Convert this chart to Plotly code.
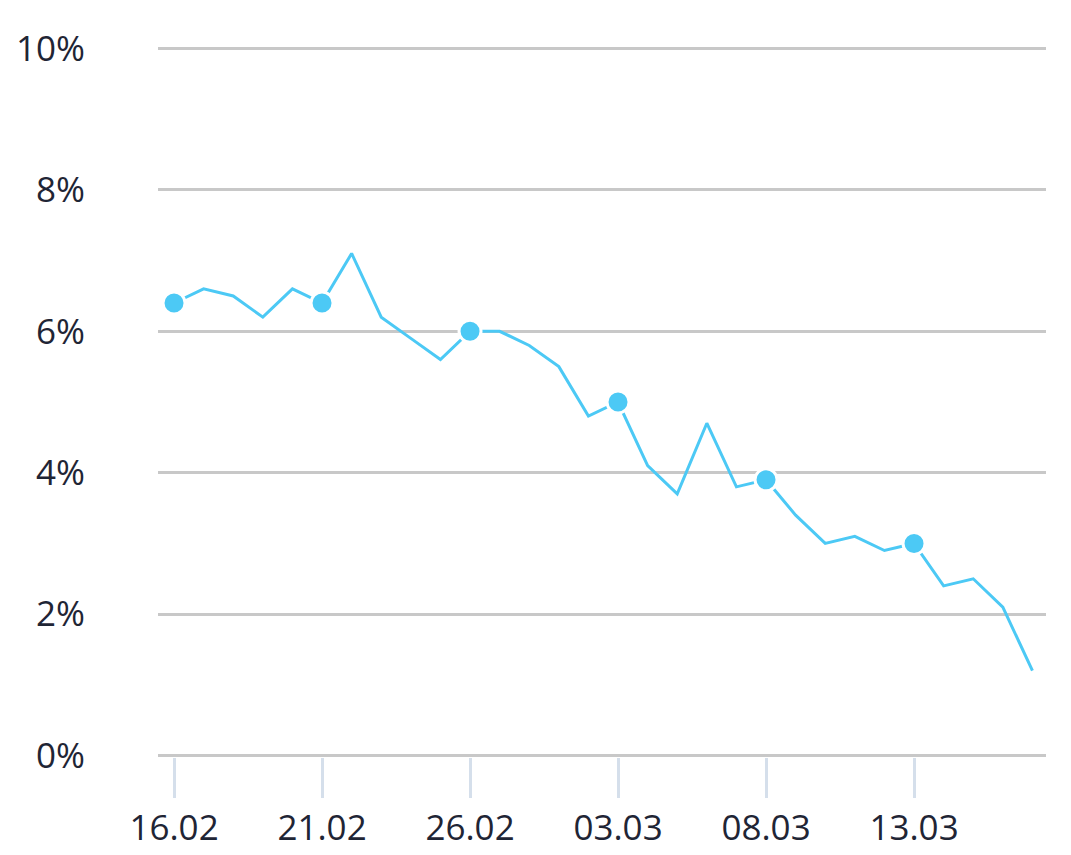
import plotly.graph_objects as go
import pandas as pd

dates = pd.date_range("2021-02-16", periods=30, freq="D")
values = [6.4, 6.6, 6.5, 6.2, 6.6, 6.4, 7.1, 6.2, 5.9, 5.6,
          6.0, 6.0, 5.8, 5.5, 4.8, 5.0, 4.1, 3.7, 4.7, 3.8,
          3.9, 3.4, 3.0, 3.1, 2.9, 3.0, 2.4, 2.5, 2.1, 1.2]
marker_idx = list(range(0, len(values), 5))

color = "#4cc9f5"
fig = go.Figure()
fig.add_trace(go.Scatter(
    x=dates, y=values, mode="lines",
    line=dict(color=color, width=3),
    hoverinfo="skip",
))
fig.add_trace(go.Scatter(
    x=[dates[i] for i in marker_idx], y=[values[i] for i in marker_idx],
    mode="markers",
    marker=dict(size=22, color=color, opacity=1, line=dict(color="white", width=3)),
    hoverinfo="skip",
))

font_color = "#1f2535"
x0 = pd.Timestamp("2021-02-16")
pad = 0.02
fig.update_layout(
    width=1071, height=855,
    margin=dict(l=158, r=25, t=48 - pad * 70.8, b=99 - pad * 70.8),
    plot_bgcolor="white", paper_bgcolor="white",
    showlegend=False,
    font=dict(family="Open Sans", size=35, color=font_color),
    xaxis=dict(
        type="date", automargin=False,
        range=[x0 - pd.Timedelta(hours=13), x0 + pd.Timedelta(days=29, hours=11)],
        tick0="2021-02-16", dtick=5 * 86400000, tickformat="%d.%m",
        showgrid=False, zeroline=False, showline=False,
        ticks="outside", ticklen=40, tickwidth=3, tickcolor="#d5dfeb",
    ),
    yaxis=dict(
        range=[-pad, 10 + pad], tickvals=[0, 2, 4, 6, 8, 10],
        ticktext=["0%", "2%", "4%", "6%", "8%", "10%"], automargin=False,
        showgrid=True, gridcolor="#c8c8c8", gridwidth=2.5,
        zeroline=False, showline=False, ticks="",
        ticklabelstandoff=72,
    ),
)
fig.write_html("out.html", config={"displayModeBar": False},
               post_script="document.body.style.margin='0';")
